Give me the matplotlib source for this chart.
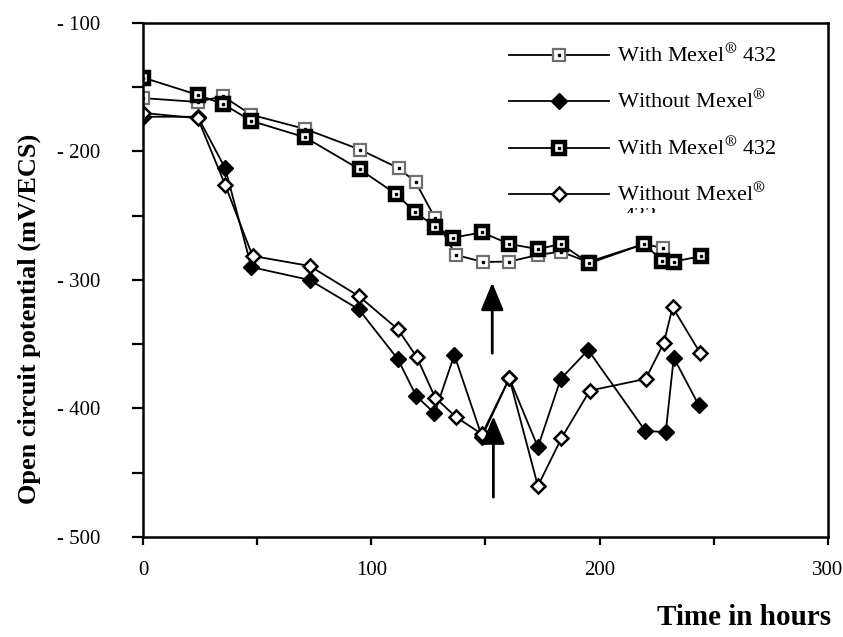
import matplotlib
matplotlib.use('Agg')
import matplotlib.pyplot as plt
from matplotlib.ticker import MultipleLocator, FuncFormatter
from matplotlib.transforms import Bbox

plt.rcParams['font.family'] = ['Liberation Serif', 'DejaVu Serif']
plt.rcParams['mathtext.fontset'] = 'stix'

# 数据
# With Mexel 432 (空心方块, 灰边)
tA = [0, 24, 35, 47.5, 71, 95, 112, 119.5, 128, 137, 149, 160.5, 173, 183, 195, 219.5, 228]
vA = [-158.5, -161.5, -157, -171.5, -182.5, -198.5, -213, -224, -252, -280.5, -286, -285.7,
      -280.5, -278, -286, -272, -275.3]
# With Mexel 432 (粗黑方块)
tB = [0, 24, 35, 47.5, 71, 95, 111, 119, 128, 136, 148.5, 160.5, 173, 183, 195.5, 219.5,
      227.5, 232.5, 244.5]
vB = [-142.5, -156, -163, -176.3, -189, -214, -233.3, -247, -258.5, -267, -263, -272, -276,
      -272, -287, -272, -285, -285.7, -281.5]
# Without Mexel (实心菱形)
tC = [0, 24, 36, 47.5, 73, 94.5, 111.7, 119.7, 127.7, 136.4, 148.5, 160.5, 173, 183, 195, 220,
      229, 232.5, 243.5]
vC = [-173, -173, -213, -290, -300, -322.8, -361.7, -390.3, -403.7, -358.4, -422, -376.5, -430,
      -377, -354.5, -417.3, -418.5, -360.5, -397.5]
# Without Mexel (空心菱形)
tD = [0, 24, 36, 48, 73, 94.5, 111.7, 120, 128, 137, 148.5, 160.5, 173, 183.3, 195.7, 220.2,
      228.2, 232, 244]
vD = [-170, -174.2, -226, -281.3, -289.1, -312.5, -338.4, -360.2, -391.6, -406.5, -420, -376.5,
      -460.3, -423.2, -386.1, -377, -348.8, -321.2, -356.6]

labels = [r'With Mexel$^{\circledR}$ 432', r'Without Mexel$^{\circledR}$',
          r'With Mexel$^{\circledR}$ 432', r'Without Mexel$^{\circledR}$']

# 箭头 (x, 尾部y, 头部y)
arrows = [(153, -357, -302), (153.5, -469, -406)]

W, H = 843, 637
fig = plt.figure(figsize=(W / 100, H / 100), dpi=100)
ax = fig.add_axes([0.1696, 0.157, 0.8124, 0.807])

lw = 1.3
lA, = ax.plot(tA, vA, color='black', lw=lw, marker='s', ms=9, mfc='white', mec='#707070', mew=1.6)
dA, = ax.plot(tA, vA, ls='none', marker='s', ms=2, color='black')
lC, = ax.plot(tC, vC, color='black', lw=lw, marker='D', ms=8, mfc='black', mec='black')
lB, = ax.plot(tB, vB, color='black', lw=lw, marker='s', ms=9, mfc='white', mec='black', mew=3.2)
dB, = ax.plot(tB, vB, ls='none', marker='s', ms=2, color='black')
lD, = ax.plot(tD, vD, color='black', lw=lw, marker='D', ms=7, mfc='white', mec='black', mew=1.8)

for x, y0, y1 in arrows:
    ax.annotate('', xy=(x, y1), xytext=(x, y0),
                arrowprops=dict(arrowstyle='-|>,head_length=0.85,head_width=0.35',
                                mutation_scale=20, lw=2, color='black',
                                shrinkA=0, shrinkB=0))

ax.set_xlim(0, 300)
ax.set_ylim(-500, -100)
ax.xaxis.set_major_locator(MultipleLocator(100))
ax.xaxis.set_minor_locator(MultipleLocator(50))
ax.yaxis.set_major_locator(MultipleLocator(100))
ax.yaxis.set_minor_locator(MultipleLocator(50))
ax.yaxis.set_major_formatter(FuncFormatter(lambda v, p: f'- {abs(int(v))}'))
ax.tick_params(which='both', direction='out', width=1.6, length=8, labelsize=15, color='black')
ax.tick_params(axis='x', which='both', length=6, pad=11)
ax.tick_params(axis='y', which='both', pad=23)
for sp in ax.spines.values():
    sp.set_linewidth(1.8)

fig.text(0.035, 0.50, 'Open circuit potential (mV/ECS)', rotation=90, fontsize=19,
         fontweight='bold', ha='center', va='center')
fig.text(0.986, 0.03, 'Time in hours', fontsize=21, fontweight='bold', ha='right',
         va='center')

leg = ax.legend([(lA, dA), lC, (lB, dB), lD], labels,
                loc='upper left', bbox_to_anchor=(0.505, 0.997), frameon=False,
                fontsize=16, handlelength=4.5, handletextpad=0.35, labelspacing=1.05)

# 图例第四行下被截掉的 "432"
cut = fig.text(624 / W, 1 - 207 / H, '432', fontsize=16, ha='left', va='top')
cut.set_clip_box(Bbox.from_extents(600, H - 213, 690, H - 208))
cut.set_clip_on(True)

fig.savefig('out.png', dpi=100)
